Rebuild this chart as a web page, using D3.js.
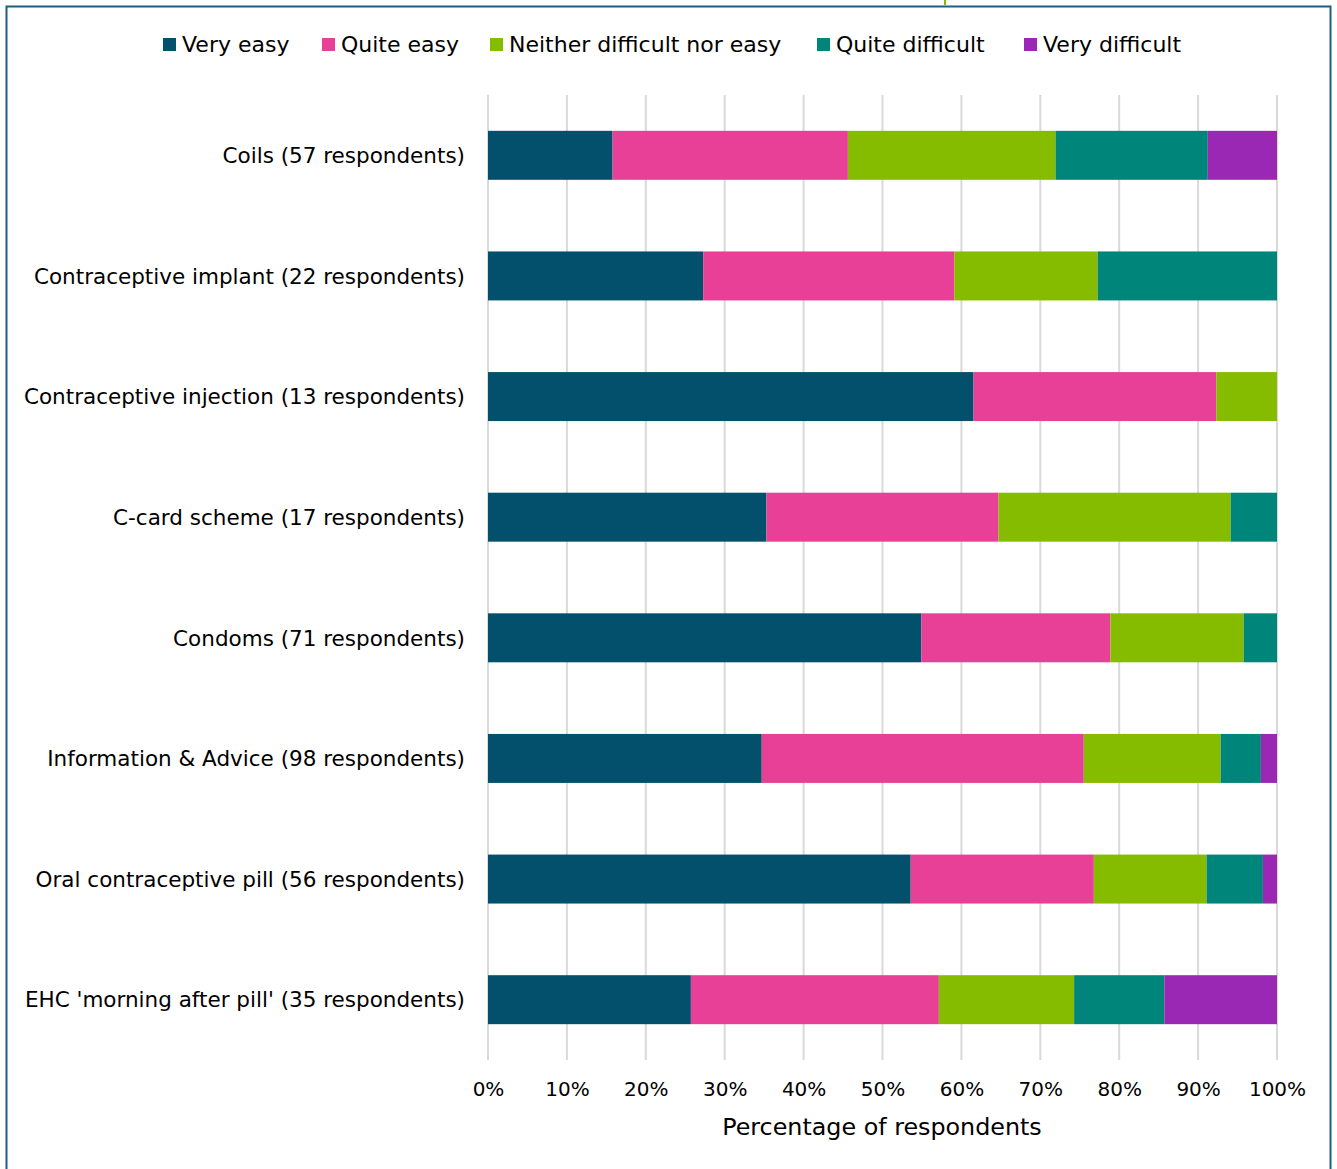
<!DOCTYPE html>
<html>
<head>
<meta charset="utf-8">
<script src="https://cdn.jsdelivr.net/npm/d3@7"></script>
<style>
  html, body { margin: 0; padding: 0; background: #fff; }
  svg { display: block; }
  text { font-family: "DejaVu Sans", sans-serif; fill: #000; }
</style>
</head>
<body>
<script>
// Services asked about, with number of respondents for each
const services = [
  "Coils",
  "Contraceptive implant",
  "Contraceptive injection",
  "C-card scheme",
  "Condoms",
  "Information & Advice",
  "Oral contraceptive pill",
  "EHC 'morning after pill'"
];
const respondents = [57, 22, 13, 17, 71, 98, 56, 35];

// Response categories and their colours
const responses = ["Very easy", "Quite easy", "Neither difficult nor easy", "Quite difficult", "Very difficult"];
const colours = ["#02506c", "#e84096", "#86bc00", "#00857a", "#9b27b5"];

// Number of respondents giving each answer, per service
const veryEasy      = [9, 6, 8, 6, 39, 34, 30, 9];
const quiteEasy     = [17, 7, 4, 5, 17, 40, 13, 11];
const neither       = [15, 4, 1, 5, 12, 17, 8, 6];
const quiteDiff     = [11, 5, 0, 1, 3, 5, 4, 4];
const veryDiff      = [5, 0, 0, 0, 0, 2, 1, 5];

const xTicks = [0, 0.1, 0.2, 0.3, 0.4, 0.5, 0.6, 0.7, 0.8, 0.9, 1.0];

const W = 1337, H = 1169;
const svg = d3.select("body").append("svg").attr("width", W).attr("height", H);

// outer frame
svg.append("rect")
  .attr("x", 6.5).attr("y", 6.5).attr("width", 1324).attr("height", 1180)
  .attr("fill", "none").attr("stroke", "#1d5f7e").attr("stroke-width", 2);
svg.append("line")
  .attr("x1", 945).attr("x2", 945).attr("y1", 0).attr("y2", 5)
  .attr("stroke", "#86bc00").attr("stroke-width", 2);

const x = d3.scaleLinear().domain([0, 1]).range([488, 1277]);
const y = d3.scaleBand().domain(services).range([95, 1060]).paddingInner(0.594).paddingOuter(0.297);

// rows of proportions
const table = services.map((s, i) => {
  const counts = [veryEasy[i], quiteEasy[i], neither[i], quiteDiff[i], veryDiff[i]];
  const row = { service: s, n: respondents[i] };
  responses.forEach((r, k) => row[r] = counts[k] / respondents[i]);
  return row;
});
const stacked = d3.stack().keys(responses)(table);

// vertical gridlines
svg.append("g").selectAll("line").data(xTicks).join("line")
  .attr("x1", d => x(d)).attr("x2", d => x(d))
  .attr("y1", 95).attr("y2", 1060)
  .attr("stroke", "#d9d9d9").attr("stroke-width", 2);

// bars
svg.append("g").selectAll("g").data(stacked).join("g")
  .attr("fill", (d, i) => colours[i])
  .selectAll("rect").data(d => d).join("rect")
  .attr("x", d => x(d[0]))
  .attr("width", d => x(d[1]) - x(d[0]))
  .attr("y", d => y(d.data.service))
  .attr("height", y.bandwidth());

// category labels
svg.append("g").selectAll("text").data(table).join("text")
  .attr("x", 465)
  .attr("y", d => y(d.service) + y.bandwidth() / 2)
  .attr("dy", "0.36em")
  .attr("text-anchor", "end")
  .attr("font-size", 21.5)
  .text(d => `${d.service} (${d.n} respondents)`);

// x axis tick labels
const xAxis = d3.axisBottom(x).tickValues(xTicks).tickFormat(d3.format(".0%")).tickSize(0).tickPadding(0);
const gx = svg.append("g").attr("transform", "translate(0,1082)").call(xAxis);
gx.select(".domain").remove();
gx.selectAll("text").attr("font-size", 20)
  .attr("font-family", "'DejaVu Sans Condensed', 'DejaVu Sans', sans-serif").attr("fill", "#000");

svg.append("text")
  .attr("x", 882).attr("y", 1135)
  .attr("text-anchor", "middle")
  .attr("font-size", 23.8)
  .text("Percentage of respondents");

// legend
const legendX = [163, 322, 490, 817, 1024];
const lg = svg.append("g").selectAll("g").data(responses).join("g")
  .attr("transform", (d, i) => `translate(${legendX[i]},38)`);
lg.append("rect").attr("width", 13).attr("height", 13).attr("fill", (d, i) => colours[i]);
lg.append("text").attr("x", 19).attr("y", 6.5).attr("dy", "0.36em")
  .attr("font-size", 22).text(d => d);
</script>
</body>
</html>
